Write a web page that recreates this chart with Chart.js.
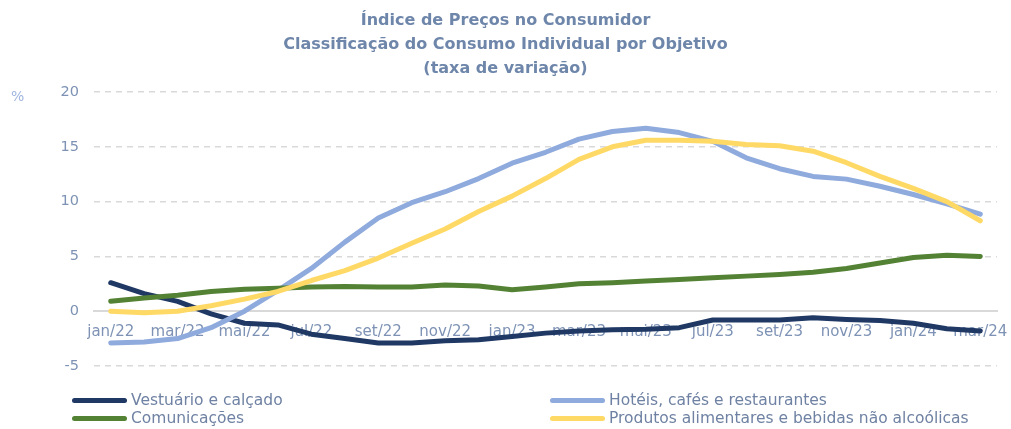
<!DOCTYPE html>
<html>
<head>
<meta charset="utf-8">
<script src="https://cdn.jsdelivr.net/npm/chart.js@4.4.1/dist/chart.umd.min.js"></script>
<style>
  html, body { margin: 0; padding: 0; background: #ffffff; }
  #wrap { position: relative; width: 1011px; height: 429px; overflow: hidden; font-family: "DejaVu Sans", sans-serif; }
  #c { position: absolute; left: 0; top: 0; }
  .title { position: absolute; left: 0; width: 1011px; text-align: center; color: #6E86AA; font-weight: bold; font-size: 16px; line-height: 18px; }
  #pct { position: absolute; left: 11px; top: 88px; color: #9FB4DF; font-size: 14px; }
  .leg { position: absolute; height: 18px; display: flex; align-items: center; color: #6F82A3; font-size: 15.5px; white-space: nowrap; }
  .leg .sw { width: 55px; height: 5px; border-radius: 3px; margin-right: 4px; }
</style>
</head>
<body>
<div id="wrap">
  <canvas id="c" width="1011" height="429"></canvas>
  <div id="titles"></div>
  <div id="pct">%</div>
  <div id="legend"></div>
</div>
<script>
const titleLines = ["Índice de Preços no Consumidor", "Classificação do Consumo Individual por Objetivo", "(taxa de variação)"];
const months = ["jan/22","fev/22","mar/22","abr/22","mai/22","jun/22","jul/22","ago/22","set/22","out/22","nov/22","dez/22",
                "jan/23","fev/23","mar/23","abr/23","mai/23","jun/23","jul/23","ago/23","set/23","out/23","nov/23","dez/23",
                "jan/24","fev/24","mar/24"];
const seriesNames = ["Vestuário e calçado", "Hotéis, cafés e restaurantes", "Comunicações", "Produtos alimentares e bebidas não alcoólicas"];
const seriesColors = ["#1F3864", "#8FAADC", "#548235", "#FFD966"];
const vestuario = [2.6, 1.6, 0.9, -0.25, -1.1, -1.25, -2.1, -2.5, -2.9, -2.9, -2.7, -2.6, -2.3,
                   -2.0, -1.8, -1.7, -1.65, -1.5, -0.8, -0.8, -0.8, -0.6, -0.75, -0.85, -1.1, -1.6, -1.8];
const hoteis = [-2.9, -2.8, -2.5, -1.5, 0.0, 1.9, 3.9, 6.3, 8.5, 9.9, 10.9, 12.1, 13.5,
                14.5, 15.7, 16.4, 16.7, 16.3, 15.5, 14.0, 13.0, 12.3, 12.05, 11.4, 10.65, 9.8, 8.85];
const comunicacoes = [0.9, 1.2, 1.45, 1.8, 2.0, 2.1, 2.2, 2.25, 2.2, 2.2, 2.4, 2.3, 1.95,
                      2.2, 2.5, 2.6, 2.75, 2.9, 3.05, 3.2, 3.35, 3.55, 3.9, 4.4, 4.9, 5.1, 5.0];
const produtos = [0.0, -0.15, 0.0, 0.5, 1.1, 1.8, 2.8, 3.7, 4.85, 6.2, 7.5, 9.1, 10.5,
                  12.1, 13.85, 15.0, 15.6, 15.6, 15.5, 15.2, 15.1, 14.6, 13.55, 12.3, 11.2, 10.0, 8.25];
const yTicks = [-5, 0, 5, 10, 15, 20];

const seriesData = [vestuario, hoteis, comunicacoes, produtos];
const drawOrder = [3, 2, 1, 0];

// titles
const tEl = document.getElementById('titles');
const tTops = [11, 35, 59];
titleLines.forEach((t, i) => {
  const d = document.createElement('div');
  d.className = 'title';
  d.style.top = tTops[i] + 'px';
  d.textContent = t;
  tEl.appendChild(d);
});

// legend
const lEl = document.getElementById('legend');
const legPos = [[72, 391], [550, 391], [72, 409], [550, 409]];
seriesNames.forEach((n, i) => {
  const d = document.createElement('div');
  d.className = 'leg';
  d.style.left = legPos[i][0] + 'px';
  d.style.top = legPos[i][1] + 'px';
  const sw = document.createElement('span');
  sw.className = 'sw';
  sw.style.background = seriesColors[i];
  d.appendChild(sw);
  const tx = document.createElement('span');
  tx.textContent = n;
  d.appendChild(tx);
  lEl.appendChild(d);
});

new Chart(document.getElementById('c'), {
  type: 'line',
  data: {
    labels: months,
    datasets: seriesNames.map((n, i) => ({
      label: n,
      data: seriesData[i],
      borderColor: seriesColors[i],
      backgroundColor: seriesColors[i],
      borderWidth: 5,
      pointRadius: 0,
      tension: 0,
      borderJoinStyle: 'round',
      borderCapStyle: 'round',
      order: drawOrder[i]
    }))
  },
  options: {
    responsive: false,
    animation: false,
    layout: { padding: { top: 92, right: 14, bottom: 63, left: 0 } },
    plugins: { legend: { display: false }, title: { display: false }, tooltip: { enabled: false } },
    scales: {
      x: {
        type: 'category',
        offset: true,
        position: { y: 0 },
        afterFit: (s) => { s.height = 0; s.paddingLeft = 0; s.paddingRight = 0; },
        grid: { display: false, drawTicks: false },
        border: { display: true, color: '#D9D9D9', width: 2 },
        ticks: {
          autoSkip: false, maxRotation: 0, minRotation: 0, padding: 12,
          color: '#7D92B4', font: { family: 'DejaVu Sans', size: 15 },
          callback: function(v, i) { return i % 2 === 0 ? this.getLabelForValue(v) : ''; }
        }
      },
      y: {
        min: -5, max: 20,
        afterFit: (s) => { s.width = 94; s.paddingTop = 0; s.paddingBottom = 0; },
        afterBuildTicks: (s) => { s.ticks = yTicks.map(v => ({ value: v })); },
        grid: {
          drawTicks: false,
          color: (ctx) => (ctx.tick && ctx.tick.value === 0) ? 'rgba(0,0,0,0)' : '#D9D9D9',
          lineWidth: 1.5
        },
        border: { display: false, dash: [6, 5] },
        ticks: { padding: 15, color: '#7D92B4', font: { family: 'DejaVu Sans', size: 14.5 } }
      }
    }
  }
});
</script>
</body>
</html>
